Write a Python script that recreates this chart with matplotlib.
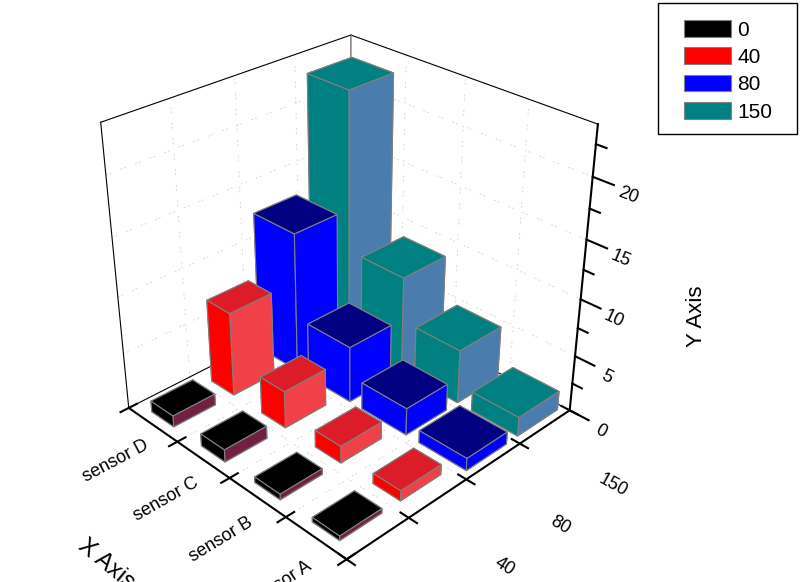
import matplotlib
matplotlib.use('Agg')
import numpy as np
from matplotlib import pyplot as plt
from matplotlib.patches import Patch, Rectangle

plt.rcParams['font.family'] = ['Liberation Sans', 'DejaVu Sans']

# x runs from the left corner (sensor D) to the front corner (sensor A)
sensors = ['sensor D', 'sensor C', 'sensor B', 'sensor A']
depths = ['0', '40', '80', '150']
z_major = [0, 5, 10, 15, 20]
z_minor = [2.5, 7.5, 12.5, 17.5, 22.5]
z_top = 24

black_vals = [1.0, 1.1, 0.5, 0.4]
red_vals = [7.5, 3.3, 1.5, 0.9]
blue_vals = [12.5, 5.0, 2.4, 1.1]
teal_vals = [22.5, 8.7, 4.8, 1.7]

left_colors = ['#000000', '#ff0000', '#0000ff', '#008080']
top_colors = ['#000000', '#dc1c28', '#000080', '#008080']
right_colors = ['#702040', '#f04048', '#0000ff', '#4a7dae']
legend_colors = ['#000000', '#ff0000', '#0000ff', '#008080']

fig = plt.figure(figsize=(8, 5.82), dpi=100)
ax = fig.add_axes([-0.1266, -0.1396, 1.1, 1.3], projection='3d', computed_zorder=False)
ax.set_proj_type('persp', focal_length=0.339)
ax.view_init(elev=30.26, azim=-44.48)
ax.set_box_aspect((1, 1, 0.998), zoom=0.734)
ax.set_xlim(0, 4, view_margin=0)
ax.set_ylim(0, 4, view_margin=0)
ax.set_zlim(0, z_top, view_margin=0)
ax.set_axis_off()

grid_style = dict(color='#d8d8d8', lw=0.7, ls=(0, (2, 2, 2, 10)), zorder=1)
for k in [1, 2, 3]:
    ax.plot([k, k], [0, 4], [0, 0], **grid_style)
    ax.plot([0, 4], [k, k], [0, 0], **grid_style)
    ax.plot([0, 0], [k, k], [0, z_top], **grid_style)
    ax.plot([k, k], [4, 4], [0, z_top], **grid_style)
for z in z_major[1:]:
    ax.plot([0, 0], [0, 4], [z, z], **grid_style)
    ax.plot([0, 4], [4, 4], [z, z], **grid_style)

# back frame
thin = dict(color='black', lw=0.8, zorder=2)
ax.plot([0, 0], [0, 4], [0, 0], **thin)
ax.plot([0, 4], [4, 4], [0, 0], **thin)
ax.plot([0, 0], [0, 4], [z_top, z_top], **thin)
ax.plot([0, 4], [4, 4], [z_top, z_top], **thin)
ax.plot([0, 0], [0, 0], [0, z_top], **thin)
ax.plot([0, 0], [4, 4], [0, z_top], color='#707070', lw=1, zorder=2)

# axes with ticks
thick = dict(color='black', lw=1.5, zorder=3)
ax.plot([0, 4], [0, 0], [0, 0], **thick)
ax.plot([4, 4], [0, 4], [0, 0], **thick)
ax.plot([4, 4], [4, 4], [0, z_top], **thick)
for k in range(5):
    ax.plot([k, k], [-0.13, 0.13], [0, 0], **thick)
    ax.plot([3.87, 4.13], [k, k], [0, 0], **thick)
for z in z_major:
    ax.plot([4, 4.3], [4, 4], [z, z], **thick)
for z in z_minor:
    ax.plot([4, 4.15], [4, 4], [z, z], **thick)

# bars, painted back to front. Black and red are narrower along x than blue and teal.
rows = [black_vals, red_vals, blue_vals, teal_vals]
bar_dx = [0.45, 0.45, 0.78, 0.76]
bar_dy = [0.68, 0.7, 0.75, 0.8]
for j in range(3, -1, -1):
    for i in range(4):
        faces = ['#000000', top_colors[j], left_colors[j], left_colors[j], right_colors[j], right_colors[j]]
        ax.bar3d(i + 0.5 - bar_dx[j] / 2, j + 0.5 - bar_dy[j] / 2, 0, bar_dx[j], bar_dy[j], rows[j][i],
                 color=faces, shade=False, edgecolor='#808080', linewidth=0.8,
                 zorder=10 + i - j)

for i, name in enumerate(sensors):
    ax.text(i + 0.78, -0.78, 0, name, zdir='y', fontsize=13, ha='center', va='center', zorder=30)
for j, name in enumerate(depths):
    if j > 0:
        ax.text(5.3, j + 0.15, 0, name, zdir='x', fontsize=13, ha='center', va='center', zorder=30)
for z in z_major:
    ax.text(4.5, 4, z - 0.4, str(z), zdir='x', fontsize=13, ha='center', va='center', zorder=30)

fig.text(697 / 800, 1 - 316 / 582, 'Y Axis', fontsize=16, rotation=90, ha='center', va='center')
ax.text(2.2, -1.95, 0, 'X Axis', zdir='x', fontsize=17, ha='center', va='center', zorder=30)

fig.add_artist(Rectangle((658 / 800, 1 - 134 / 582), 139 / 800, 131 / 582, transform=fig.transFigure,
                         facecolor='white', edgecolor='black', lw=1))
handles = [Patch(facecolor=c, edgecolor='#808080', lw=0.8) for c in legend_colors]
leg = fig.legend(handles, depths, loc='upper left', bbox_to_anchor=(684 / 800, 1 - 20 / 582),
                 fontsize=15, frameon=False,
                 handlelength=2.25, handleheight=0.85, labelspacing=0.38, handletextpad=0.3,
                 borderpad=0, borderaxespad=0)

fig.savefig('out.png', dpi=100)
